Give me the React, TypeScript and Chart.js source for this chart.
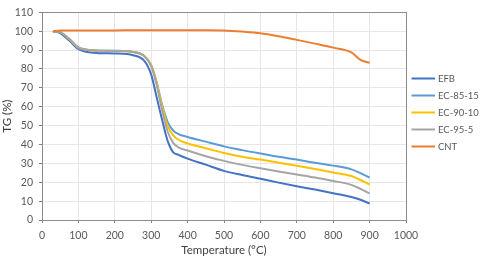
import React, { useEffect, useRef } from "react";
import { Chart, registerables } from "chart.js";

Chart.register(...registerables);

const temperatures = [30, 50, 75, 100, 150, 200, 250, 280, 300, 315, 330, 345, 360, 375, 400, 450, 500, 550, 600, 650, 700, 750, 800, 850, 875, 900];

const efb = [100, 99, 95, 90.5, 88.5, 88.2, 87.3, 84.5, 77, 65, 53, 42, 36, 34.5, 32.5, 29.3, 26, 23.8, 21.8, 19.8, 17.9, 16.1, 14.2, 12.2, 10.7, 8.7];
const ec8515 = [100, 99.5, 95.8, 91.5, 89.8, 89.6, 89, 87, 82, 73, 61, 52, 47.5, 45.5, 44, 41.5, 39, 37, 35.2, 33.5, 32, 30.3, 28.8, 26.8, 24.8, 22.5];
const ec9010 = [100, 99.5, 95.8, 91.3, 89.7, 89.5, 89, 87, 82, 72.5, 60, 50, 45, 42.5, 40.5, 38, 35.5, 33.5, 32, 30.3, 28.7, 27, 25.2, 23.3, 21.2, 18.8];
const ec955 = [100, 99.5, 95.8, 91.2, 89.8, 89.5, 89, 87, 81.5, 71.5, 58, 47, 41, 38.5, 36.8, 33.8, 31.3, 29.2, 27.4, 25.7, 24.1, 22.5, 20.7, 18.6, 16.5, 14.1];
const cnt = [100, 100.3, 100.4, 100.4, 100.4, 100.4, 100.5, 100.5, 100.5, 100.5, 100.5, 100.5, 100.5, 100.5, 100.5, 100.5, 100.4, 99.8, 98.9, 97.3, 95.4, 93.4, 91.3, 88.8, 84.8, 83.2];

const seriesLabels = ["EFB", "EC-85-15", "EC-90-10", "EC-95-5", "CNT"];
const seriesValues = [efb, ec8515, ec9010, ec955, cnt];
const seriesColors = ["#4472C4", "#5B9BD5", "#FFC000", "#A5A5A5", "#ED7D31"];

const FONT = "Lato, 'Open Sans', sans-serif";
const TEXT = "#595959";

export default function App() {
  const ref = useRef<HTMLCanvasElement | null>(null);
  useEffect(() => {
    if (!ref.current) return;
    const boxPlugin = {
      id: "box",
      afterDraw(chart: any) {
        const { ctx, chartArea } = chart;
        ctx.save();
        ctx.strokeStyle = "#8c8c8c";
        ctx.lineWidth = 1;
        ctx.strokeRect(
          Math.round(chartArea.left) + 0.5,
          Math.round(chartArea.top) + 0.5,
          Math.round(chartArea.right - chartArea.left),
          Math.round(chartArea.bottom - chartArea.top)
        );
        // legend
        const x0 = 411.5;
        const x1 = 435;
        const y0 = 78.5;
        const dy = 17;
        ctx.font = `9.5px ${FONT}`;
        ctx.textBaseline = "middle";
        ctx.textAlign = "left";
        chart.data.datasets.forEach((ds: any, i: number) => {
          const y = y0 + i * dy;
          ctx.strokeStyle = ds.borderColor;
          ctx.lineWidth = 2;
          ctx.beginPath();
          ctx.moveTo(x0, y);
          ctx.lineTo(x1, y);
          ctx.stroke();
          ctx.fillStyle = TEXT;
          ctx.fillText(ds.label, 438, y);
        });
        ctx.restore();
      },
    };
    const chart = new Chart(ref.current, {
      type: "line",
      data: {
        datasets: seriesLabels.map((label, i) => ({
          label,
          data: temperatures.map((t, j) => ({ x: t, y: seriesValues[i][j] })),
          borderColor: seriesColors[i],
          backgroundColor: seriesColors[i],
          borderWidth: 2,
          pointRadius: 0,
          cubicInterpolationMode: "monotone" as const,
          fill: false,
          order: 5 - i,
        })),
      },
      options: {
        animation: false,
        responsive: false,
        devicePixelRatio: 1,
        layout: { padding: { left: 0, top: 12, right: 74, bottom: 0 } },
        plugins: { legend: { display: false }, tooltip: { enabled: false } },
        scales: {
          x: {
            type: "linear",
            min: 0,
            max: 1000,
            ticks: { stepSize: 100, color: TEXT, font: { family: FONT, size: 10.5 }, padding: 6, maxRotation: 0, callback: (v: any) => String(v) },
            grid: { color: "#E6E6E6", tickColor: "#7f7f7f", tickLength: 3 },
            border: { color: "#595959" },
            title: { display: true, text: "Temperature (°C)", color: "#404040", font: { family: FONT, size: 11.5 }, padding: { top: 1, bottom: 0 } },
            afterFit: (s: any) => { s.height = 37; },
          },
          y: {
            min: 0,
            max: 110,
            ticks: { stepSize: 10, color: TEXT, font: { family: FONT, size: 10.5 }, padding: 6 },
            grid: { color: "#E6E6E6", tickColor: "#7f7f7f", tickLength: 3 },
            border: { color: "#595959" },
            title: { display: true, text: "TG (%)", color: "#404040", font: { family: FONT, size: 11.5 }, padding: { top: 0, bottom: 0 } },
            afterFit: (s: any) => { s.width = 42; },
          },
        },
      },
      plugins: [boxPlugin],
    });
    return () => chart.destroy();
  }, []);
  return (
    <div style={{ position: "absolute", left: 0, top: 0, width: 480, height: 257, background: "#fff" }}>
      <canvas ref={ref} width={480} height={257} />
    </div>
  );
}
